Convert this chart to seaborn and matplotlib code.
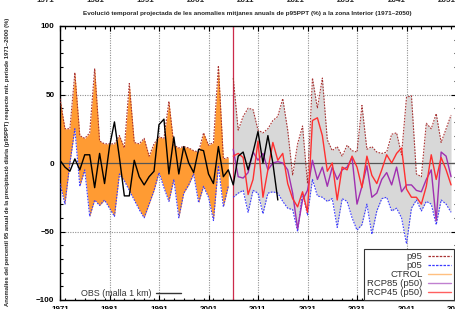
import numpy as np
import pandas as pd
import matplotlib
matplotlib.use("Agg")
import matplotlib.pyplot as plt
from matplotlib.lines import Line2D
from matplotlib.ticker import MultipleLocator, FixedLocator
import seaborn as sns

# ---------------- data ----------------
years_ctrl = list(range(1971, 2006))
ctrl_p95 = [47, 25, 25, 66, 20, 18, 22, 69, 16, 14, 14, 14, 20, 11, 58, 15, 14, 18, 5, 14,
            19, 18, 45, 13, 11, 12, 11, 9, 8, 22, 13, 15, 71, 3, 4]
ctrl_p05 = [-15, -30, 0, 25, -17, -5, -39, -27, -31, -27, -33, -39, -8, -13, -20, -27, -34, -40, -30, -20,
            -7, -18, -28, -12, -40, -22, -16, -8, -29, -17, -25, -42, -2, -32, -17]

years_fut = list(range(2006, 2051))
fut_p95 = [62, 24, 34, 40, 39, 24, 22, 25, 31, 34, 47, 24, -9, 14, 27, -15, 62, 40, 62, 17,
           9, 12, 5, 13, 9, 8, 42, 10, 12, 8, 7, 8, 21, 22, 6, 48, 49, -8, -10, 29,
           25, 36, 15, 25, 35]
fut_p05 = [-25, -22, -20, -36, -20, -22, -37, -22, -21, -22, -28, -33, -34, -50, -22, -38, -12, -24, -25, -28,
           -26, -47, -26, -28, -40, -49, -45, -30, -52, -35, -26, -25, -35, -33, -40, -59, -33, -27, -35, -28,
           -30, -45, -27, -30, -36]
rcp45_p50 = [5, 7, 4, -23, -12, 16, -25, -5, 15, 2, 7, -15, -26, -32, -21, -36, 31, 33, 20, -6,
             0, -27, -3, -5, 5, -3, -18, 5, -9, -15, -5, 6, 0, 7, 11, -19, -25, -25, -30, -17,
             6, -12, 4, -5, -16]
rcp85_p50 = [10, -10, -11, -7, 8, 2, 7, -5, 0, 1, 0, -5, -22, -48, -27, -20, 2, -12, -3, -17,
             -3, -12, -5, -3, 4, -30, -17, -2, -25, -22, -12, -7, -16, -3, -21, -16, -16, -20, -21, -12,
             -5, -42, 8, 5, -10]

years_obs = list(range(1971, 2016))
obs = [2, -3, -6, 3, -5, 6, 6, -18, 7, -15, 12, 30, 4, -24, -24, 2, -10, -16, -10, -6,
       28, 32, -8, 19, -8, 12, 0, -7, 10, 9, -8, -15, 12, -10, -5, -16, 5, 8, -5, 8,
       23, 0, 20, 0, -27]

scenario_start = 2006
x_ticks = [1971, 1981, 1991, 2001, 2011, 2021, 2031, 2041, 2051]
y_ticks = [-100, -50, 0, 50, 100]
legend_labels = ["p95", "p05", "CTROL", "RCP85 (p50)", "RCP45 (p50)"]
obs_label = "OBS (malla 1 km)"
title = "Evolució temporal projectada de les anomalies mitjanes anuals de p95PPT (%) a la zona Interior (1971\u20132050)"
ylabel = "Anomalies del percentil 95 anual de la precipitació diària (p95PPT) respecte mit. periode 1971\u20132000 (%)"
top_labels = ["1971", "1981", "1991", "2001", "2011", "2021", "2031", "2041", "2051"]

# ---------------- style ----------------
sns.set_style("ticks")
plt.rcParams["font.family"] = ["Liberation Sans", "DejaVu Sans"]

C_ORANGE = "#ff9b33"
C_GRAY = "#d8d8d8"
C_P95 = "#a83232"
C_P05 = "#3a3aff"
C_R45 = "#ff3030"
C_R85 = "#a030b0"

ctrl = pd.DataFrame({"year": years_ctrl, "p95": ctrl_p95, "p05": ctrl_p05})
fut = pd.DataFrame({"year": years_fut, "p95": fut_p95, "p05": fut_p05,
                    "rcp45": rcp45_p50, "rcp85": rcp85_p50})
obs_df = pd.DataFrame({"year": years_obs, "obs": obs})

W, H = 456, 309
fig = plt.figure(figsize=(W / 100, H / 100), dpi=100)
ax = fig.add_axes([60 / W, 9 / H, 396 / W, 274 / H])

# fills
ax.fill_between(ctrl["year"], ctrl["p05"], ctrl["p95"], color=C_ORANGE, lw=0, zorder=1)
ax.fill_between(fut["year"], fut["p05"], fut["p95"], color=C_GRAY, lw=0, zorder=1)

# grid & reference lines
for xv in x_ticks[1:-1]:
    ax.axvline(xv, color="#909090", lw=0.8, ls=(0, (1, 1.2)), zorder=0.5)
for yv in [-50, 50]:
    ax.axhline(yv, color="#909090", lw=0.8, ls=(0, (1, 1.2)), zorder=0.5)
ax.axhline(0, color="#555555", lw=0.9, zorder=2)
ax.axvline(scenario_start, color="#cc2a4a", lw=0.9, zorder=2)

dot = (0, (1.5, 1.2))
for df in (ctrl, fut):
    sns.lineplot(data=df, x="year", y="p95", ax=ax, color=C_P95, lw=0.8, ls=dot, zorder=3)
    sns.lineplot(data=df, x="year", y="p05", ax=ax, color=C_P05, lw=0.8, ls=dot, zorder=3)
sns.lineplot(data=fut, x="year", y="rcp85", ax=ax, color=C_R85, lw=1.0, zorder=4)
sns.lineplot(data=fut, x="year", y="rcp45", ax=ax, color=C_R45, lw=1.0, zorder=4)
sns.lineplot(data=obs_df, x="year", y="obs", ax=ax, color="black", lw=1.0, zorder=5)

ax.set_xlim(1971, 2051)
ax.set_ylim(-100, 100)
ax.xaxis.set_major_locator(FixedLocator(x_ticks))
ax.xaxis.set_minor_locator(MultipleLocator(2))
ax.yaxis.set_major_locator(FixedLocator(y_ticks))
ax.yaxis.set_minor_locator(MultipleLocator(10))
ax.set_xticklabels(x_ticks)
ax.tick_params(which="both", direction="in", top=True, right=True, width=0.8, colors="black")
ax.tick_params(which="major", length=3.5, labelsize=5.8)
ax.tick_params(axis="x", which="major", pad=4.5)
ax.tick_params(axis="y", which="major", pad=4)
ax.tick_params(which="minor", length=1.8)
for lab in ax.get_yticklabels() + ax.get_xticklabels():
    lab.set_fontweight("bold")
ax.set_xlabel("")
ax.set_ylabel("")
for s in ax.spines.values():
    s.set_color("black")
    s.set_linewidth(1.0)

# legends
handles = [Line2D([], [], color=C_P95, lw=0.9, ls=(0, (2, 1))),
           Line2D([], [], color=C_P05, lw=0.9, ls=(0, (2, 1))),
           Line2D([], [], color="#ffc080", lw=1.0),
           Line2D([], [], color="#c080d0", lw=1.0),
           Line2D([], [], color="#ff6060", lw=1.0)]
leg = ax.legend(handles, legend_labels, loc="lower right", bbox_to_anchor=(0.995, 0.0),
                markerfirst=False, fontsize=6.8, frameon=True, fancybox=False,
                edgecolor="#333333", framealpha=1, borderaxespad=0, handlelength=2.5,
                handletextpad=0.55, labelspacing=0.0, borderpad=0.3)
leg.get_frame().set_linewidth(0.8)
leg.set_zorder(10)
ax.add_artist(leg)
leg2 = ax.legend([Line2D([], [], color="#333333", lw=1.0)], [obs_label], loc="lower left",
                 bbox_to_anchor=(0.045, -0.005), markerfirst=False, fontsize=6.4, frameon=False,
                 handlelength=2.8, handletextpad=0.5, borderaxespad=0)
for t in leg.get_texts() + leg2.get_texts():
    t.set_color("#333333")

# texts
fig.text(247 / W, 1 - 13 / H, title, ha="center", va="center", fontsize=4.55, fontweight="bold")
fig.text(8 / W, 1 - 18 / H, ylabel, rotation=90, ha="center", va="top", fontsize=4.2, fontweight="bold")
for i, lab in enumerate(top_labels):
    fig.text((45 + 50.2 * i) / W, 1 - 2.2 / H, lab, ha="center", va="baseline", fontsize=5.8,
             fontweight="bold")

fig.savefig("out.png", dpi=100)
